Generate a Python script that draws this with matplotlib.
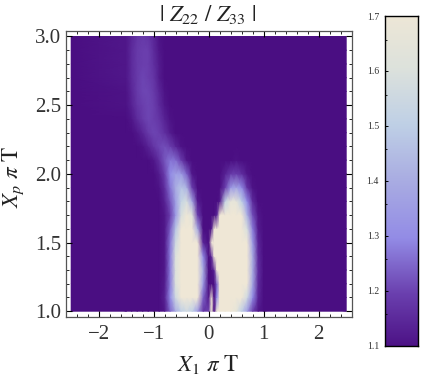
import numpy as np
import matplotlib
matplotlib.use('Agg')
import matplotlib.pyplot as plt
from matplotlib.colors import LinearSegmentedColormap, Normalize

plt.rcParams['font.family'] = ['Liberation Serif', 'DejaVu Serif']
plt.rcParams['mathtext.fontset'] = 'stix'

W, H = 436, 378

# values; anything above 1.7 shows as the top colour
x_cols = [-1.5, -1.4, -1.3, -1.2, -1.1, -1.0, -0.9, -0.8, -0.7, -0.6, -0.5, -0.4, -0.3, -0.2, -0.1, 0.0,
          0.05, 0.1, 0.15, 0.2, 0.3, 0.4, 0.5, 0.6, 0.7, 0.8, 0.9, 1.0]
y_rows = [1.0, 1.1, 1.2, 1.3, 1.4, 1.5, 1.6, 1.7, 1.8, 1.9, 2.0, 2.1, 2.2, 2.3, 2.4, 2.5, 2.6, 2.7, 2.8, 2.9, 3.0]

z_100 = [1.1, 1.1, 1.1, 1.1, 1.1, 1.1, 1.1, 1.12, 1.25, 1.4, 1.5, 1.55, 1.5, 1.35, 1.18, 1.2, 1.9, 1.1, 1.75, 1.9, 1.85, 1.75, 1.65, 1.5, 1.35, 1.2, 1.12, 1.1]
z_110 = [1.1, 1.1, 1.1, 1.1, 1.1, 1.1, 1.1, 1.14, 1.3, 1.55, 1.8, 1.95, 1.95, 1.7, 1.25, 1.12, 1.75, 1.1, 1.3, 2.1, 2.2, 2.1, 2.0, 1.85, 1.55, 1.3, 1.15, 1.1]
z_120 = [1.1, 1.1, 1.1, 1.1, 1.1, 1.1, 1.1, 1.13, 1.28, 1.6, 1.9, 2.1, 2.2, 2.0, 1.35, 1.1, 1.1, 1.1, 1.25, 2.1, 2.3, 2.3, 2.2, 2.05, 1.72, 1.38, 1.16, 1.1]
z_130 = [1.1, 1.1, 1.1, 1.1, 1.1, 1.1, 1.1, 1.12, 1.28, 1.6, 1.95, 2.15, 2.25, 2.1, 1.4, 1.1, 1.1, 1.15, 1.8, 2.2, 2.4, 2.4, 2.3, 2.1, 1.75, 1.4, 1.17, 1.1]
z_140 = [1.1, 1.1, 1.1, 1.1, 1.1, 1.1, 1.1, 1.12, 1.28, 1.6, 1.95, 2.15, 2.25, 2.05, 1.3, 1.1, 1.15, 2.0, 2.2, 2.3, 2.4, 2.4, 2.3, 2.1, 1.75, 1.4, 1.16, 1.1]
z_150 = [1.1, 1.1, 1.1, 1.1, 1.1, 1.1, 1.1, 1.12, 1.27, 1.55, 1.9, 2.1, 2.15, 1.75, 1.15, 1.1, 1.7, 2.0, 2.2, 2.3, 2.4, 2.4, 2.25, 2.0, 1.7, 1.35, 1.15, 1.1]
z_160 = [1.1, 1.1, 1.1, 1.1, 1.1, 1.1, 1.1, 1.12, 1.24, 1.47, 1.8, 1.98, 1.9, 1.4, 1.1, 1.1, 1.12, 1.8, 2.0, 2.1, 2.2, 2.2, 2.1, 1.9, 1.58, 1.28, 1.13, 1.1]
z_170 = [1.1, 1.1, 1.1, 1.1, 1.1, 1.1, 1.1, 1.12, 1.2, 1.34, 1.58, 1.7, 1.62, 1.2, 1.1, 1.1, 1.1, 1.1, 1.15, 1.75, 1.9, 1.95, 1.88, 1.7, 1.42, 1.22, 1.12, 1.1]
z_180 = [1.1, 1.1, 1.1, 1.1, 1.1, 1.1, 1.1, 1.14, 1.23, 1.36, 1.52, 1.58, 1.38, 1.13, 1.1, 1.1, 1.1, 1.1, 1.1, 1.12, 1.52, 1.65, 1.65, 1.5, 1.3, 1.16, 1.1, 1.1]
z_190 = [1.1, 1.1, 1.1, 1.1, 1.1, 1.1, 1.11, 1.17, 1.27, 1.4, 1.47, 1.42, 1.2, 1.1, 1.1, 1.1, 1.1, 1.1, 1.1, 1.1, 1.2, 1.34, 1.38, 1.3, 1.18, 1.11, 1.1, 1.1]
z_200 = [1.1, 1.1, 1.1, 1.1, 1.1, 1.1, 1.13, 1.2, 1.3, 1.36, 1.35, 1.25, 1.12, 1.1, 1.1, 1.1, 1.1, 1.1, 1.1, 1.1, 1.14, 1.19, 1.2, 1.17, 1.12, 1.1, 1.1, 1.1]
z_210 = [1.1, 1.1, 1.1, 1.1, 1.1, 1.12, 1.17, 1.23, 1.27, 1.26, 1.2, 1.12, 1.1, 1.1, 1.1, 1.1, 1.1, 1.1, 1.1, 1.1, 1.1, 1.1, 1.11, 1.1, 1.1, 1.1, 1.1, 1.1]
z_220 = [1.1, 1.1, 1.1, 1.11, 1.14, 1.18, 1.21, 1.22, 1.2, 1.15, 1.11, 1.1, 1.1, 1.1, 1.1, 1.1, 1.1, 1.1, 1.1, 1.1, 1.1, 1.1, 1.1, 1.1, 1.1, 1.1, 1.1, 1.1]
z_230 = [1.1, 1.1, 1.12, 1.15, 1.19, 1.21, 1.2, 1.17, 1.13, 1.1, 1.1, 1.1, 1.1, 1.1, 1.1, 1.1, 1.1, 1.1, 1.1, 1.1, 1.1, 1.1, 1.1, 1.1, 1.1, 1.1, 1.1, 1.1]
z_240 = [1.1, 1.12, 1.16, 1.19, 1.21, 1.2, 1.18, 1.14, 1.11, 1.1, 1.1, 1.1, 1.1, 1.1, 1.1, 1.1, 1.1, 1.1, 1.1, 1.1, 1.1, 1.1, 1.1, 1.1, 1.1, 1.1, 1.1, 1.1]
z_250 = [1.11, 1.14, 1.18, 1.2, 1.21, 1.2, 1.16, 1.12, 1.1, 1.1, 1.1, 1.1, 1.1, 1.1, 1.1, 1.1, 1.1, 1.1, 1.1, 1.1, 1.1, 1.1, 1.1, 1.1, 1.1, 1.1, 1.1, 1.1]
z_260 = [1.11, 1.15, 1.19, 1.21, 1.21, 1.19, 1.15, 1.11, 1.1, 1.1, 1.1, 1.1, 1.1, 1.1, 1.1, 1.1, 1.1, 1.1, 1.1, 1.1, 1.1, 1.1, 1.1, 1.1, 1.1, 1.1, 1.1, 1.1]
z_270 = [1.12, 1.16, 1.19, 1.21, 1.2, 1.18, 1.13, 1.1, 1.1, 1.1, 1.1, 1.1, 1.1, 1.1, 1.1, 1.1, 1.1, 1.1, 1.1, 1.1, 1.1, 1.1, 1.1, 1.1, 1.1, 1.1, 1.1, 1.1]
z_280 = [1.12, 1.16, 1.19, 1.2, 1.2, 1.17, 1.13, 1.1, 1.1, 1.1, 1.1, 1.1, 1.1, 1.1, 1.1, 1.1, 1.1, 1.1, 1.1, 1.1, 1.1, 1.1, 1.1, 1.1, 1.1, 1.1, 1.1, 1.1]
z_290 = [1.12, 1.16, 1.19, 1.2, 1.2, 1.16, 1.12, 1.1, 1.1, 1.1, 1.1, 1.1, 1.1, 1.1, 1.1, 1.1, 1.1, 1.1, 1.1, 1.1, 1.1, 1.1, 1.1, 1.1, 1.1, 1.1, 1.1, 1.1]
z_300 = [1.12, 1.15, 1.18, 1.19, 1.18, 1.15, 1.11, 1.1, 1.1, 1.1, 1.1, 1.1, 1.1, 1.1, 1.1, 1.1, 1.1, 1.1, 1.1, 1.1, 1.1, 1.1, 1.1, 1.1, 1.1, 1.1, 1.1, 1.1]

x_ticks = [-2, -1, 0, 1, 2]
y_ticks = [1.0, 1.5, 2.0, 2.5, 3.0]
bar_ticks = [1.1, 1.2, 1.3, 1.4, 1.5, 1.6, 1.7]

cmap_pos = [0.0, 1/6, 2/6, 3/6, 4/6, 5/6, 1.0]
cmap_col = ['#4a0e82', '#6a3fae', '#938ce6', '#a9ace2', '#bfd0e6', '#dde2dc', '#efe7d6']
cmap = LinearSegmentedColormap.from_list('lobes', list(zip(cmap_pos, cmap_col)))
norm = Normalize(1.1, 1.7)

z = np.array([z_100, z_110, z_120, z_130, z_140, z_150, z_160, z_170, z_180, z_190, z_200,
              z_210, z_220, z_230, z_240, z_250, z_260, z_270, z_280, z_290, z_300])
# flat background out to the edges of the plot range
z = np.clip(np.pad(z, ((0, 0), (1, 1)), constant_values=1.1), 1.1, 1.7)
xx = np.array([-2.5] + x_cols + [2.5])

def pixel_axes(fig, left, top, right, bottom):
    return fig.add_axes([left / W, 1 - bottom / H, (right - left) / W, (bottom - top) / H])

fig = plt.figure(figsize=(W / 100, H / 100), dpi=100)
ax = pixel_axes(fig, 65.7, 31, 351.7, 316.7)
ax.pcolormesh(xx, y_rows, z, cmap=cmap, norm=norm, shading='gouraud', rasterized=True)
ax.set_xlim(-2.6, 2.6)
ax.set_ylim(0.96, 3.04)

ax.set_xticks(x_ticks)
ax.set_xticklabels(['\u22122', '\u22121', '0', '1', '2'])
ax.set_yticks(y_ticks)
ax.set_yticklabels(['%.1f' % v for v in y_ticks])
ax.set_xticks(np.arange(-2.4, 2.6, 0.2), minor=True)
ax.set_yticks(np.arange(1.0, 3.05, 0.1), minor=True)
ax.tick_params(which='major', direction='in', top=True, right=True, length=4, width=0.8,
               labelsize=15, labelcolor='#333333', pad=3)
ax.tick_params(axis='x', which='major', pad=6)
ax.tick_params(which='minor', direction='in', top=True, right=True, length=2, width=0.6)
for side in ax.spines.values():
    side.set_linewidth(0.9)
    side.set_color('#555555')

fig.text(208 / W, 1 - 15 / H, r'$|\ Z_{22}\ /\ Z_{33}\ |$', ha='center', va='center',
         fontsize=16.5, color='#222222')
fig.text(208 / W, 1 - 365 / H, r'$X_1\ \pi\ \mathrm{T}$', ha='center', va='center',
         fontsize=16.5, color='#222222')
fig.text(13 / W, 1 - 177 / H, r'$X_p\ \pi\ \mathrm{T}$', ha='center', va='center',
         rotation=90, fontsize=16.5, color='#222222')

cax = pixel_axes(fig, 384.5, 16, 417.5, 345.5)
levels = np.linspace(1.1, 1.7, 256).reshape(-1, 1)
cax.imshow(levels, origin='lower', aspect='auto', extent=[0, 1, 1.09, 1.71], cmap=cmap, norm=norm)
cax.set_ylim(1.1, 1.7)
cax.set_xticks([])
cax.set_yticks(bar_ticks)
cax.set_yticklabels(['%.1f' % v for v in bar_ticks])
cax.set_yticks(np.arange(1.157, 1.7, 0.1), minor=True)
cax.tick_params(which='major', axis='y', direction='in', length=2, width=0.7,
                labelsize=7, labelcolor='#333333', pad=4)
cax.tick_params(which='minor', axis='y', direction='in', length=1.5, width=0.6)
for side in cax.spines.values():
    side.set_linewidth(1.0)

fig.savefig('out.png', dpi=100)
